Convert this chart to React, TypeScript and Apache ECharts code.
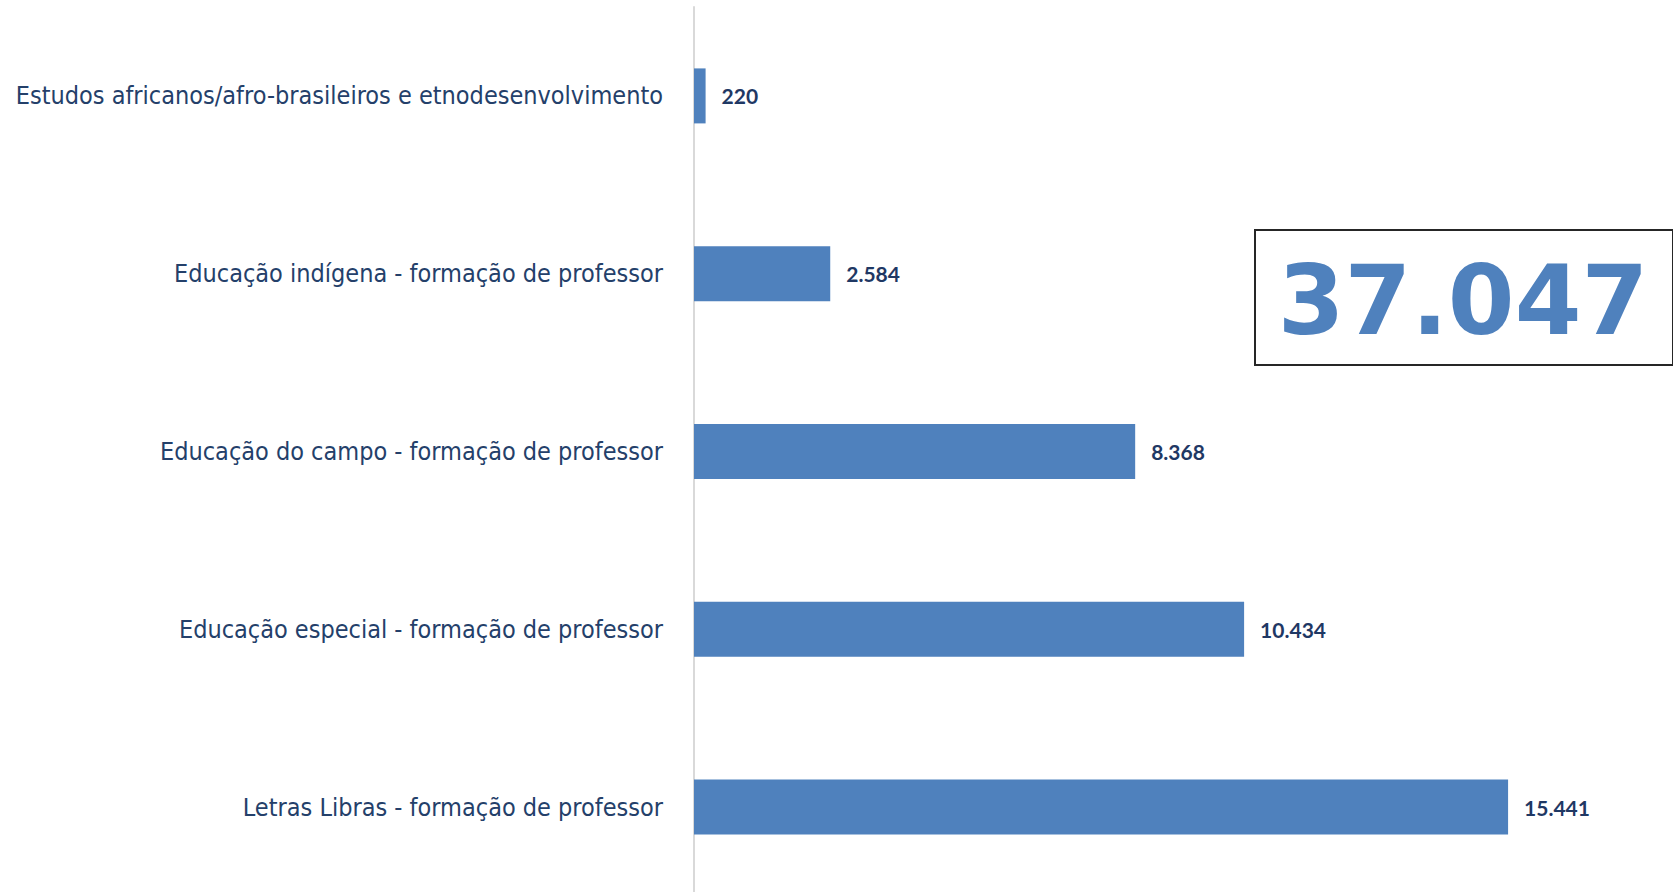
import React, { useEffect, useRef } from "react";
import * as echarts from "echarts";

// Categories listed top to bottom
const categories = [
  "Estudos africanos/afro-brasileiros e etnodesenvolvimento",
  "Educação indígena - formação de professor",
  "Educação do campo - formação de professor",
  "Educação especial - formação de professor",
  "Letras Libras - formação de professor",
];
const values = [220, 2584, 8368, 10434, 15441];
const totalLabel = "37.047";

const fmt = (v: number) => v.toLocaleString("de-DE");

export default function App() {
  const ref = useRef<HTMLDivElement>(null);
  useEffect(() => {
    if (!ref.current) return;
    const chart = echarts.init(ref.current, undefined, { renderer: "svg" });
    chart.setOption({
      animation: false,
      backgroundColor: "#ffffff",
      grid: {
        left: 694,
        width: 949,
        top: 7,
        bottom: -4,
        containLabel: false,
        outerBoundsMode: "none",
      },
      xAxis: {
        type: "value",
        min: 0,
        max: 18000,
        show: false,
      },
      yAxis: {
        type: "category",
        data: categories,
        inverse: true,
        axisLine: { show: true, lineStyle: { color: "#D9D9D9", width: 2 } },
        axisTick: { show: false },
        axisLabel: {
          margin: 31,
          color: "#24406A",
          fontFamily: "'Liberation Sans Narrow', 'DejaVu Sans Condensed', sans-serif",
          fontSize: 25,
        },
      },
      series: [
        {
          type: "bar",
          data: values,
          barWidth: 55,
          itemStyle: { color: "#4F81BD" },
          label: {
            show: true,
            position: "right",
            distance: 16,
            color: "#1F3864",
            fontFamily: "Lato, sans-serif",
            fontWeight: "bold",
            fontSize: 21,
            formatter: (p: any) => fmt(p.value),
          },
        },
      ],
      graphic: [
        {
          type: "rect",
          shape: { x: 1255, y: 230, width: 418, height: 135 },
          style: { fill: "#ffffff", stroke: "#262626", lineWidth: 2 },
        },
        {
          type: "text",
          x: 1463,
          y: 301,
          style: {
            text: totalLabel,
            fill: "#4F81BD",
            font: "bold 96px 'DejaVu Sans', sans-serif",
            align: "center",
            verticalAlign: "middle",
          },
        },
      ],
    });
    return () => chart.dispose();
  }, []);
  return (
    <div
      ref={ref}
      style={{ position: "absolute", left: 0, top: 0, width: 1673, height: 892 }}
    />
  );
}
